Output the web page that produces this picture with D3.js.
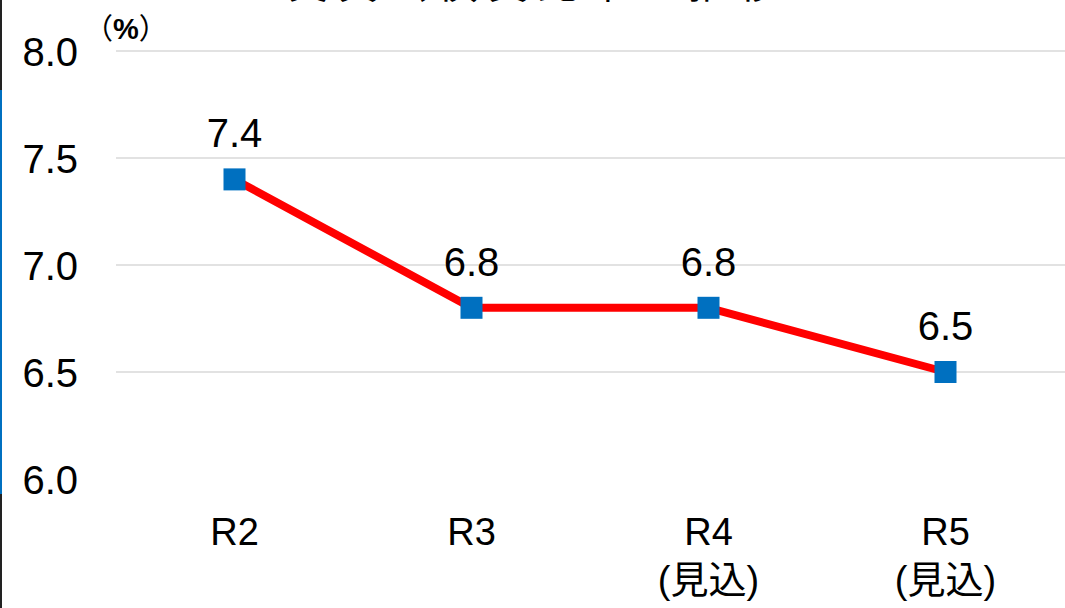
<!DOCTYPE html>
<html>
<head>
<meta charset="utf-8">
<script src="https://cdn.jsdelivr.net/npm/d3@7"></script>
<style>
  html, body { margin: 0; padding: 0; background: #fff; }
  svg { display: block; }
  text { font-family: "Liberation Sans", Arial, "Noto Sans CJK JP", sans-serif; }
</style>
</head>
<body>
<svg id="chart" width="1065" height="608"></svg>
<script>
const categories = ["R2", "R3", "R4", "R5"];
const subLabels = ["", "", "(見込)", "(見込)"];
const values = [7.4, 6.8, 6.8, 6.5];
const yTicks = [6.0, 6.5, 7.0, 7.5, 8.0];
const titleText = "実質公債費比率の推移";
const unitText = "%";

const W = 1065, H = 608;
const svg = d3.select("#chart");

const x = d3.scaleBand().domain(categories).range([116, 1064]);
const y = d3.scaleLinear().domain([6.0, 8.0]).range([479, 51]);

// left edge frame remnants
svg.append("rect").attr("x", 0).attr("y", 0).attr("width", 2).attr("height", 90).attr("fill", "#222");
svg.append("rect").attr("x", 0).attr("y", 90).attr("width", 2).attr("height", 404).attr("fill", "#0070c0");
svg.append("rect").attr("x", 0).attr("y", 494).attr("width", 2).attr("height", 114).attr("fill", "#222");

// cut-off title (only its bottom edge shows, as in the reference)
svg.append("text").attr("x", 538).attr("y", -2.5).attr("text-anchor", "middle")
  .attr("font-size", 40).attr("fill", "#000")
  .attr("font-family", "'Noto Sans CJK JP', sans-serif")
  .attr("letter-spacing", 10)
  .text(titleText);

// gridlines
svg.append("g").selectAll("line").data(yTicks.filter(d => d > 6.0)).join("line")
  .attr("x1", 116).attr("x2", W)
  .attr("y1", d => y(d)).attr("y2", d => y(d))
  .attr("stroke", "#d9d9d9").attr("stroke-width", 1.5);

// y axis labels
const yAxis = d3.axisLeft(y).tickValues(yTicks).tickFormat(d3.format(".1f")).tickSize(0).tickPadding(0);
const gy = svg.append("g").attr("transform", "translate(78,0)").call(yAxis);
gy.select(".domain").remove();
gy.selectAll("text").attr("font-size", 40).attr("fill", "#000")
  .attr("font-family", "'Liberation Sans', Arial, sans-serif")
  .attr("dy", "0.36em");

// unit
const ut = svg.append("text").attr("x", 84).attr("y", 39).attr("fill", "#000")
  .attr("font-family", "'Noto Sans CJK JP', sans-serif").attr("font-size", 29);
ut.append("tspan").text("（");
ut.append("tspan").attr("font-weight", "bold").attr("font-family", "'Liberation Sans', Arial, sans-serif")
  .attr("font-size", 29).text(unitText);
ut.append("tspan").text("）");

// x axis labels
const xAxis = d3.axisBottom(x).tickSize(0).tickPadding(0);
const gx = svg.append("g").call(xAxis);
gx.select(".domain").remove();
gx.selectAll("text").remove();
const cx = d => x(d) + x.bandwidth() / 2;
const xl = svg.append("g");
xl.selectAll("text.cat").data(categories).join("text").attr("class", "cat")
  .attr("x", d => cx(d)).attr("y", 545).attr("text-anchor", "middle")
  .attr("font-size", 38).attr("fill", "#000").text(d => d);
xl.selectAll("text.sub").data(categories.map((c, i) => ({c, s: subLabels[i]}))).join("text").attr("class", "sub")
  .attr("x", d => cx(d.c)).attr("y", 593).attr("text-anchor", "middle")
  .attr("font-size", 38).attr("fill", "#000").text(d => d.s);

// line
const data = categories.map((c, i) => ({c, v: values[i]}));
svg.append("path").datum(data)
  .attr("d", d3.line().x(d => cx(d.c)).y(d => y(d.v)))
  .attr("fill", "none").attr("stroke", "#ff0000").attr("stroke-width", 8)
  .attr("stroke-linejoin", "round");

// markers
const ms = 22;
svg.append("g").selectAll("rect").data(data).join("rect")
  .attr("x", d => cx(d.c) - ms / 2).attr("y", d => y(d.v) - ms / 2)
  .attr("width", ms).attr("height", ms).attr("fill", "#0070c0");

// data labels
svg.append("g").selectAll("text").data(data).join("text")
  .attr("x", d => cx(d.c)).attr("y", d => y(d.v) - 32)
  .attr("text-anchor", "middle").attr("font-size", 40).attr("fill", "#000")
  .text(d => d3.format(".1f")(d.v));
</script>
</body>
</html>
